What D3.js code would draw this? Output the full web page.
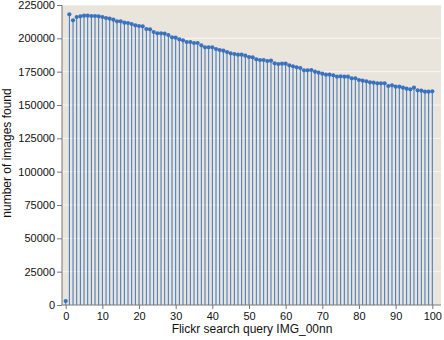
<!DOCTYPE html>
<html>
<head>
<meta charset="utf-8">
<script src="https://cdn.jsdelivr.net/npm/d3@7"></script>
<style>
  body { margin: 0; background: #fff; }
  text { font-family: "Liberation Sans", Arial, sans-serif; }
</style>
</head>
<body>
<div id="chart"></div>
<script>
var margin = {top: 5, right: 3, bottom: 35, left: 62},
    width = 444 - margin.left - margin.right,
    height = 340 - margin.top - margin.bottom;

// image counts for IMG_0000 .. IMG_0100
var counts = [
  3000, 218000, 213500, 216000, 216500, 217000, 217000, 216750, 216750, 216500,
  216000, 215250, 214750, 214000, 212750, 212750, 211750, 211500, 210750, 209750,
  209250, 209000, 207000, 206750, 204750, 203750, 203750, 203500, 202500, 200750,
  200500, 199250, 198500, 197250, 197250, 196500, 196500, 194750, 193250, 193250,
  193250, 192000, 191250, 190750, 189750, 188750, 188250, 187750, 187750, 187000,
  186000, 185750, 184250, 183750, 183750, 183000, 183250, 181250, 180750, 181000,
  181000, 179750, 179000, 178250, 177750, 176000, 176000, 176250, 175000, 174250,
  173500, 172750, 172750, 172250, 171250, 171500, 171250, 171250, 170000, 170000,
  168750, 168250, 167750, 167000, 166750, 166250, 166250, 166250, 164250, 164750,
  163750, 163750, 163000, 162250, 161750, 163000, 161000, 160750, 160000, 160000,
  160250
];
var xTicks = [0, 10, 20, 30, 40, 50, 60, 70, 80, 90, 100];
var yTicks = [0, 25000, 50000, 75000, 100000, 125000, 150000, 175000, 200000, 225000];

var data = counts.map(function(v, i){ return {n: i, count: v}; });

var svg = d3.select("#chart")
  .append("svg")
  .attr("width", width + margin.left + margin.right)
  .attr("height", height + margin.top + margin.bottom)
  .append("g")
  .attr("transform", "translate(" + margin.left + "," + margin.top + ")");

var x = d3.scaleLinear().domain([0, 100]).range([3.7, 370.3]);
var y = d3.scaleLinear().domain([0, 225000]).range([height, 0]);

svg.append("rect")
  .attr("width", width)
  .attr("height", height)
  .attr("fill", "#e9e5dc");

// horizontal grid
svg.selectAll(".grid")
  .data(yTicks)
  .join("line")
  .attr("x1", 0).attr("x2", width)
  .attr("y1", function(d){ return y(d); })
  .attr("y2", function(d){ return y(d); })
  .attr("stroke", "#ffffff")
  .attr("stroke-opacity", 0.7)
  .attr("stroke-width", 1);

// stems
svg.selectAll(".stem")
  .data(data)
  .join("line")
  .attr("x1", function(d){ return x(d.n); })
  .attr("x2", function(d){ return x(d.n); })
  .attr("y1", y(0))
  .attr("y2", function(d){ return y(d.count); })
  .attr("stroke", "#3f73ba")
  .attr("stroke-width", 1);

svg.selectAll(".dot")
  .data(data)
  .join("circle")
  .attr("cx", function(d){ return x(d.n); })
  .attr("cy", function(d){ return y(d.count); })
  .attr("r", 2.1)
  .attr("fill", "#3a72c0");

var yAxis = svg.append("g")
  .call(d3.axisLeft(y).tickValues(yTicks).tickSize(5).tickPadding(2).tickFormat(d3.format("d")));
var xAxis = svg.append("g")
  .attr("transform", "translate(0," + height + ")")
  .call(d3.axisBottom(x).tickValues(xTicks).tickSize(4).tickPadding(3));

[yAxis, xAxis].forEach(function(a){
  a.select(".domain").remove();
  a.selectAll("line").attr("stroke", "#777");
  a.selectAll("text").attr("font-size", 11).attr("fill", "#111")
    .attr("font-family", "'Liberation Sans', Arial, sans-serif");
});

svg.append("line")
  .attr("x1", 0).attr("x2", 0).attr("y1", 0).attr("y2", height)
  .attr("stroke", "#777");
svg.append("line")
  .attr("x1", 0).attr("x2", width).attr("y1", height).attr("y2", height)
  .attr("stroke", "#777");

svg.append("text")
  .attr("x", (x(0) + x(100)) / 2 + 3)
  .attr("y", height + 28)
  .attr("text-anchor", "middle")
  .attr("font-size", 12)
  .attr("fill", "#111")
  .text("Flickr search query IMG_00nn");

svg.append("text")
  .attr("transform", "rotate(-90)")
  .attr("x", -height / 2 + 2)
  .attr("y", -51)
  .attr("text-anchor", "middle")
  .attr("font-size", 12)
  .attr("fill", "#111")
  .text("number of images found");
</script>
</body>
</html>
